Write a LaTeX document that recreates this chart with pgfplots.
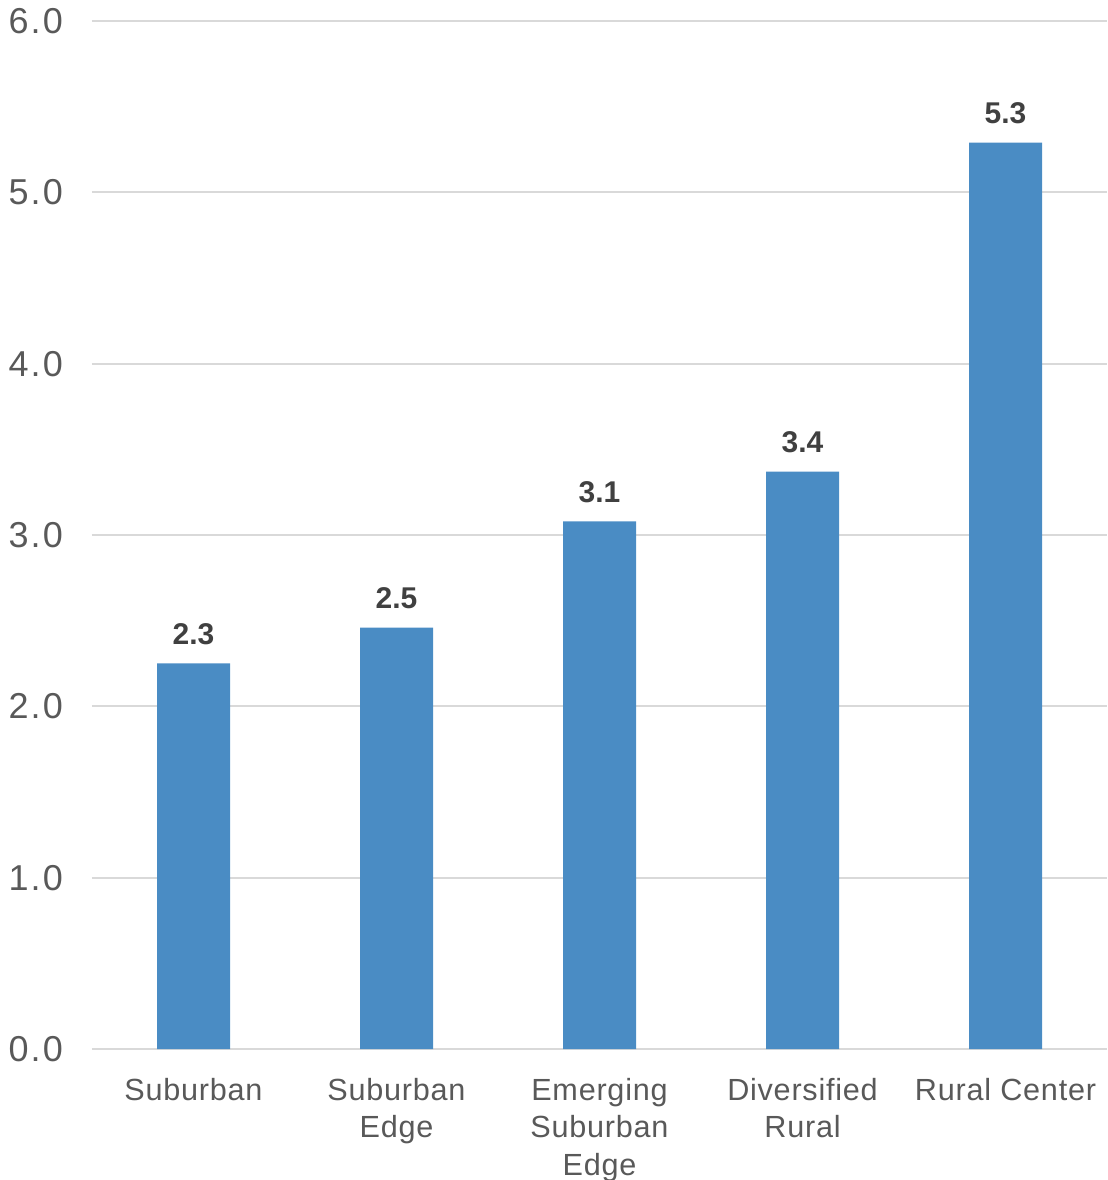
\documentclass[border=0pt]{standalone}
\usepackage{pgfplots}
\pgfplotsset{compat=1.18}
\usetikzlibrary{calc}
\usepackage{fontspec}
\setmainfont{Liberation Sans}
\newfontfamily\tickfont[LetterSpace=6]{Liberation Sans}
\newfontfamily\catfont[LetterSpace=2.5]{Liberation Sans}
\definecolor{barblue}{HTML}{4A8CC4}
\definecolor{gridgray}{HTML}{D9D9D9}
\definecolor{ticktext}{HTML}{595959}
\definecolor{labtext}{HTML}{404040}
\begin{document}
\begin{tikzpicture}
\begin{axis}[
  name=ax,
  scale only axis,
  width=507.5pt, height=514pt,
  xmin=-0.5, xmax=4.5,
  ymin=0, ymax=6,
  ytick={0,1,2,3,4,5,6},
  xtick={0,1,2,3,4},
  xticklabels={Suburban,{Suburban\\Edge},{Emerging\\Suburban\\Edge},{Diversified\\Rural},{Rural Center}},
  axis line style={draw=none},
  major tick length=0pt,
  ymajorgrids,
  grid style={draw=gridgray, line width=1pt},
  /pgf/number format/assume math mode=true,
  yticklabel={\pgfmathprintnumber[fixed,fixed zerofill,precision=1]{\tick}},
  yticklabel style={font=\tickfont\fontsize{18}{21}\selectfont, text=ticktext, xshift=-11pt},
  xticklabel style={font=\catfont\fontsize{15.3}{18.8}\selectfont, text=ticktext, align=center, anchor=north, yshift=-11pt},
  ybar, bar width=36.5pt,
  nodes near coords,
  point meta=explicit symbolic,
  every node near coord/.append style={font=\bfseries\fontsize{15}{18}\selectfont, text=labtext, anchor=south, inner sep=0pt, yshift=9pt},
  clip=false,
]
\addplot[fill=barblue, draw=none] table[meta=lab] {
x y lab
0 2.25 2.3
1 2.46 2.5
2 3.08 3.1
3 3.37 3.4
4 5.29 5.3
};
\end{axis}
\pgfresetboundingbox
\path ($(ax.south west)+(-46pt,-65.5pt)$) rectangle ($(ax.north east)+(0pt,10.5pt)$);
\end{tikzpicture}
\end{document}
